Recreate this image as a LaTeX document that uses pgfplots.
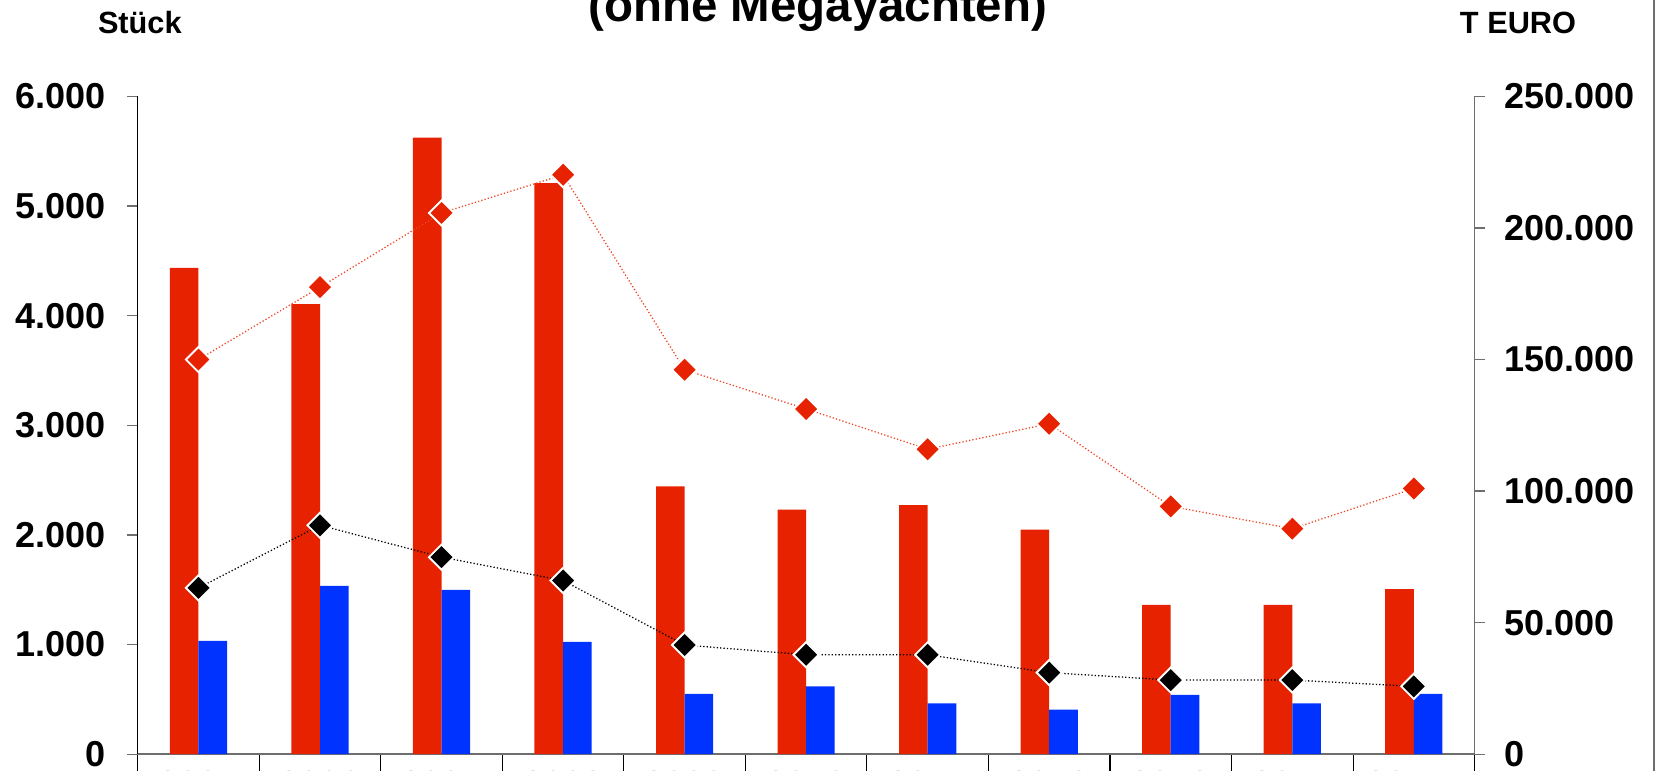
\documentclass[border=0pt]{standalone}
\usepackage{fontspec}
\setmainfont{Liberation Sans}
\usepackage{pgfplots}
\pgfplotsset{compat=1.18}
\usepackage{pgfplotstable}

\definecolor{barred}{RGB}{230,34,0}
\definecolor{barblue}{RGB}{0,51,255}
\definecolor{linered}{RGB}{240,70,40}
\definecolor{axisgray}{RGB}{110,110,110}

% Stueck (left axis): rot, blau ; T EURO (right axis): euro_rot, euro_schwarz
\pgfplotstableread{
x rot blau euro_rot euro_schwarz
0 4435 1034 150000 63200
1 4106 1536 177500 87000
2 5623 1498 205700 74900
3 5208 1024 220200 66000
4 2444 551 146100 41500
5 2232 618 131200 37800
6 2271 464 115900 37800
7 2048 406 125600 31000
8 1362 541 94200 28200
9 1362 464 85700 28200
10 1507 551 101000 25800
}\datatable

\pgfplotsset{
  every tick label/.append style={font=\bfseries\fontsize{17}{20}\selectfont},
  /pgf/number format/assume math mode=true,
}

\begin{document}
\begin{tikzpicture}
\begin{axis}[
  at={(0,0)}, anchor=south west,
  scale only axis, width=631pt, height=310.5pt,
  xmin=-0.5, xmax=10.5, ymin=0, ymax=6000,
  scaled y ticks=false,
  axis y line*=left, axis x line*=bottom,
  y axis line style={black, line width=0.5pt},
  x axis line style={axisgray, line width=1.1pt},
  ybar=0pt, bar width=13.5pt,
  xtick={0,...,10},
  xticklabels={2005,2006,2007,2008,2009,2010,2011,2012,2013,2014,2015*},
  major x tick style={draw=none},
  minor xtick={-0.5,0.5,1.5,2.5,3.5,4.5,5.5,6.5,7.5,8.5,9.5,10.5},
  minor tick length=20pt,
  minor x tick style={black, line width=0.5pt},
  ytick={0,1000,2000,3000,4000,5000,6000},
  yticklabels={0,1.000,2.000,3.000,4.000,5.000,6.000},
  major y tick style={axisgray, line width=0.6pt},
  tick align=outside, major tick length=5pt,
  yticklabel style={anchor=east, inner sep=0pt, xshift=-10pt},
  xticklabel style={anchor=north, inner sep=0pt, yshift=-3pt},
]
\addplot[fill=barred, draw=none] table[x=x, y=rot]{\datatable};
\addplot[fill=barblue, draw=none] table[x=x, y=blau]{\datatable};
\end{axis}

\begin{axis}[
  at={(0,0)}, anchor=south west,
  scale only axis, width=631pt, height=310.5pt,
  xmin=-0.5, xmax=10.5, ymin=0, ymax=250000,
  scaled y ticks=false,
  axis y line*=right, axis x line=none,
  y axis line style={axisgray, line width=0.6pt},
  ytick={0,50000,100000,150000,200000,250000},
  yticklabels={0,50.000,100.000,150.000,200.000,250.000},
  major y tick style={axisgray, line width=0.6pt},
  tick align=outside, major tick length=5pt,
  yticklabel style={anchor=west, inner sep=0pt, xshift=9pt},
  clip=false,
]
\addplot[linered, densely dotted, line width=0.6pt, mark=square*, mark size=4.2pt,
  mark options={solid, rotate=45, fill=barred, draw=white, line width=0.9pt}]
  table[x=x, y=euro_rot]{\datatable};
\addplot[black, densely dotted, line width=0.6pt, mark=square*, mark size=4.2pt,
  mark options={solid, rotate=45, fill=black, draw=white, line width=0.9pt}]
  table[x=x, y=euro_schwarz]{\datatable};
\end{axis}

\node[font=\bfseries\fontsize{22.4}{26}\selectfont, anchor=base] at (321pt,346pt) {(ohne Megayachten)};
\node[font=\bfseries\fontsize{14.5}{17}\selectfont, anchor=base] at (1pt,340pt) {Stück};
\node[font=\bfseries\fontsize{14.5}{17}\selectfont, anchor=base] at (651.5pt,340pt) {T EURO};
\draw[line width=1pt, axisgray] (715.5pt,-20pt) -- (715.5pt,380pt);

\pgfresetboundingbox
\useasboundingbox (-65pt,-7.5pt) rectangle (719pt,356pt);
\end{tikzpicture}
\end{document}
